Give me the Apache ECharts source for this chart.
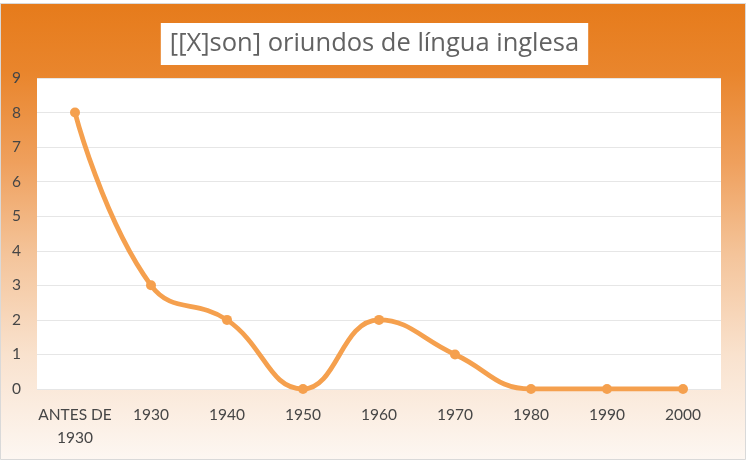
<!DOCTYPE html>
<html><head><meta charset="utf-8">
<script src="https://cdn.jsdelivr.net/npm/echarts@6/dist/echarts.min.js"></script>
<style>html,body{margin:0;padding:0;background:#fff}#c{width:749px;height:462px}</style>
</head><body><div id="c"></div>
<script>
const titleText = '[[X]son] oriundos de língua inglesa';
const categories = ['ANTES DE\n1930','1930','1940','1950','1960','1970','1980','1990','2000'];
const values = [8,3,2,0,2,1,0,0,0];
const yTicks = [0,1,2,3,4,5,6,7,8,9];

const chart = echarts.init(document.getElementById('c'));
chart.setOption({
  animation: false,
  graphic: [{
    type: 'rect', z: -100, silent: true, left: 0, top: 3,
    shape: {x: 0, y: 0, width: 745, height: 456},
    style: {
      fill: new echarts.graphic.LinearGradient(0, 0, 0, 1, [
        {offset: 0, color: '#E67B1B'},
        {offset: 0.15, color: '#E9852C'},
        {offset: 0.35, color: '#EFA05D'},
        {offset: 0.55, color: '#F4C49A'},
        {offset: 0.77, color: '#F9E2CE'},
        {offset: 1, color: '#FDF7F2'}
      ]),
      stroke: '#D9D9D9', lineWidth: 1
    }
  }],
  title: {
    text: titleText,
    left: 'center', top: 23,
    backgroundColor: '#fff',
    padding: [6, 9, 6, 9],
    textStyle: {fontFamily: 'Open Sans', fontSize: 25.5, lineHeight: 30, fontWeight: 'normal', color: '#626262'}
  },
  grid: {left: 37, right: 28, top: 78, bottom: 73, show: true, backgroundColor: '#fff', borderWidth: 0},
  xAxis: {
    type: 'category', data: categories, boundaryGap: true,
    axisLine: {show: false}, axisTick: {show: false},
    axisLabel: {color: '#464646', fontFamily: 'Lato', fontSize: 15.5, margin: 14, lineHeight: 23, interval: 0}
  },
  yAxis: {
    type: 'value', min: yTicks[0], max: yTicks[yTicks.length-1], interval: 1,
    axisLine: {show: false}, axisTick: {show: false},
    axisLabel: {color: '#464646', fontFamily: 'Lato', fontSize: 15.5, margin: 16},
    splitLine: {lineStyle: {color: '#E6E6E6', width: 1}}
  },
  series: [{
    type: 'line', data: values, smooth: 0.45,
    symbol: 'circle', symbolSize: 10,
    lineStyle: {color: '#F5A04E', width: 4.8},
    itemStyle: {color: '#F5A04E'}
  }]
});
</script></body></html>
